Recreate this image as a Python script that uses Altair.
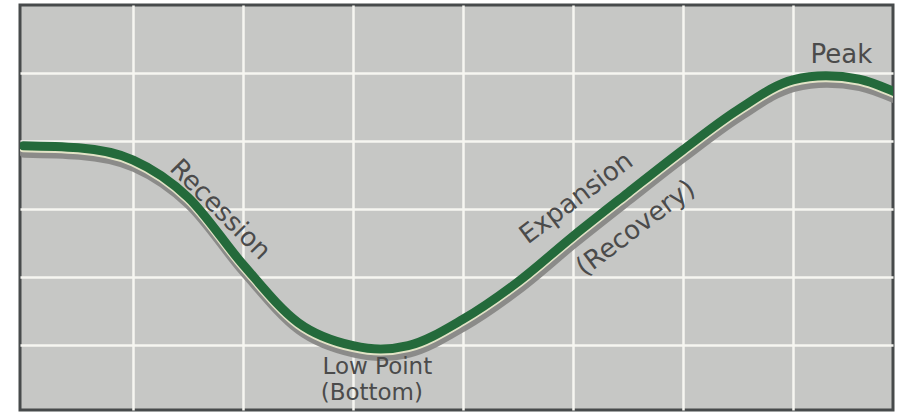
import altair as alt
import pandas as pd

# Business-cycle curve in grid units (x: columns from the left, y: rows from the bottom)
cycle_x = [0.0, 0.5, 1.0, 1.5, 2.0, 2.5, 3.0, 3.25, 3.5, 4.0, 4.5, 5.0, 5.5, 6.0, 6.5, 7.0, 7.3, 7.6, 7.93]
cycle_y = [3.93, 3.90, 3.72, 3.17, 2.18, 1.33, 0.99, 0.94, 0.99, 1.38, 1.93, 2.60, 3.24, 3.87, 4.46, 4.90, 4.96, 4.91, 4.72]

# Phase labels and where they sit on the grid
flat_labels = ["Peak"]
flat_x = [7.44]
flat_y = [5.26]

low_labels = ["Low Point", "(Bottom)"]
low_x = [3.22, 3.17]
low_y = [0.68, 0.30]

down_labels = ["Recession"]
down_x = [1.79]
down_y = [2.99]

up_labels = ["Expansion", "(Recovery)"]
up_x = [5.03, 5.57]
up_y = [3.16, 2.72]

grid_x = [1, 2, 3, 4, 5, 6, 7]
grid_y = [1, 2, 3, 4, 5]

X_DOMAIN = [-0.03, 7.91]
Y_DOMAIN = [0.044, 6.0]

curve = pd.DataFrame({"x": cycle_x, "y": cycle_y})

xs = alt.Scale(domain=X_DOMAIN, nice=False, zero=False)
ys = alt.Scale(domain=Y_DOMAIN, nice=False, zero=False)

grid_kw = dict(grid=True, gridColor="#f6f6f1", gridWidth=2.5, gridOpacity=1,
               labels=False, ticks=False, domain=False, title=None)
x_axis = alt.Axis(values=grid_x, **grid_kw)
y_axis = alt.Axis(values=grid_y, **grid_kw)

base = alt.Chart(curve).encode(
    x=alt.X("x:Q", scale=xs, axis=x_axis),
    y=alt.Y("y:Q", scale=ys, axis=y_axis),
    order="x:Q",
)

# drop shadow, pale rim, then the green curve on top
shadow = base.mark_line(color="#888886", strokeWidth=10, interpolate="monotone",
                        yOffset=7, xOffset=1, clip=True, opacity=0.95, strokeCap="round")
edge = base.mark_line(color="#e2e3c6", strokeWidth=9, interpolate="monotone",
                      yOffset=2, clip=True, strokeCap="round")
line = base.mark_line(color="#246a3b", strokeWidth=9, interpolate="monotone",
                      clip=True, strokeCap="round")


def text_layer(labels, lx, ly, size, angle=0):
    df = pd.DataFrame({"label": labels, "x": lx, "y": ly})
    return alt.Chart(df).mark_text(
        font="DejaVu Sans", fontSize=size, color="#4b4b4b",
        angle=angle, align="center", baseline="middle",
    ).encode(
        x=alt.X("x:Q", scale=xs, axis=x_axis),
        y=alt.Y("y:Q", scale=ys, axis=y_axis),
        text="label:N",
    )


peak = text_layer(flat_labels, flat_x, flat_y, 26)
low = text_layer(low_labels, low_x, low_y, 23)
down = text_layer(down_labels, down_x, down_y, 26, angle=45)
up = text_layer(up_labels, up_x, up_y, 26, angle=323)

chart = alt.layer(shadow, edge, line, peak, low, down, up).properties(
    width=873,
    height=405,
    padding={"left": 20, "top": 5, "right": 7, "bottom": 3},
    autosize=alt.AutoSizeParams(type="none"),
    background="white",
).configure_view(
    fill="#c6c7c5",
    stroke="#474a4b",
    strokeWidth=3,
)

chart.save("out.html", embed_options={"renderer": "svg", "actions": False})
